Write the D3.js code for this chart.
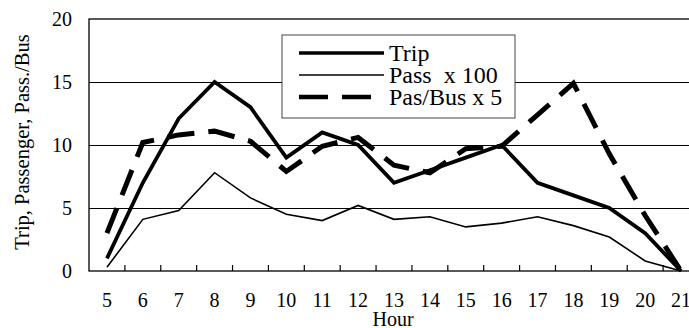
<!DOCTYPE html>
<html><head><meta charset="utf-8">
<script src="https://cdn.jsdelivr.net/npm/d3@7"></script>
<style>
html,body{margin:0;padding:0;background:#fff;}
svg{display:block;}
text{font-family:"Liberation Serif","Times New Roman",serif;fill:#000;}
</style></head>
<body>
<svg id="chart" width="689" height="328"></svg>
<script>
const hours = ["5","6","7","8","9","10","11","12","13","14","15","16","17","18","19","20","21"];
const trip = [1, 7, 12.1, 15, 13, 9, 11, 10, 7, 8, 9, 10, 7, 6, 5, 3, 0];
const passX100 = [0.3, 4.1, 4.8, 7.8, 5.8, 4.5, 4.0, 5.2, 4.1, 4.3, 3.5, 3.8, 4.3, 3.6, 2.7, 0.8, 0];
const pasBusX5 = [3.0, 10.2, 10.8, 11.1, 10.3, 7.9, 9.9, 10.6, 8.4, 7.8, 9.7, 9.9, 12.4, 14.9, 9.3, 4.4, 0];
const yTicks = [0, 5, 10, 15, 20];
const seriesNames = ["Trip", "Pass  x 100", "Pas/Bus x 5"];

const svg = d3.select("#chart");
const L = 89, R = 699, T = 19, B = 271;

const x = d3.scaleBand().domain(hours).range([L, R]).padding(0);
const xc = h => x(h) + x.bandwidth() / 2;
const y = d3.scaleLinear().domain([0, 20]).range([B, T]);

// grid lines
svg.append("g").selectAll("line").data(yTicks.filter(v => v > 0 && v < 20)).join("line")
  .attr("x1", L).attr("x2", R).attr("y1", d => y(d)).attr("y2", d => y(d))
  .attr("stroke", "#000").attr("stroke-width", 1).attr("shape-rendering", "crispEdges");

// plot frame
svg.append("rect").attr("x", L).attr("y", y(20)).attr("width", R - L).attr("height", y(0) - y(20))
  .attr("fill", "none").attr("stroke", "#000").attr("stroke-width", 1.3);

// y tick labels
const yAxis = d3.axisLeft(y).tickValues(yTicks).tickSize(0).tickPadding(17);
const gy = svg.append("g").attr("transform", `translate(${L},0)`).call(yAxis);
gy.select(".domain").remove();
gy.selectAll("text").style("font-size", "20px").style("font-family", '"Liberation Serif", serif');

// x ticks at band boundaries (inside, upward)
svg.append("g").selectAll("line").data(hours.slice(1)).join("line")
  .attr("x1", d => x(d)).attr("x2", d => x(d)).attr("y1", B).attr("y2", B - 6)
  .attr("stroke", "#000").attr("stroke-width", 1.2);

// x tick labels
const xAxis = d3.axisBottom(x).tickSize(0).tickPadding(22);
const gx = svg.append("g").attr("transform", `translate(0,${B})`).call(xAxis);
gx.select(".domain").remove();
gx.selectAll("text").style("font-size", "20px").style("font-family", '"Liberation Serif", serif');

// axis titles
svg.append("text").attr("x", (L + R) / 2 - 1).attr("y", 326).attr("text-anchor", "middle")
  .style("font-size", "20px").text("Hour");
svg.append("text").attr("transform", "translate(29,142) rotate(-90)").attr("text-anchor", "middle")
  .style("font-size", "20.5px").text("Trip, Passenger, Pass./Bus");

const line = d3.line().x((d, i) => xc(hours[i])).y(d => y(d));

const styles = [
  {w: 3.8, dash: null},
  {w: 1.6, dash: null},
  {w: 5, dash: "27,14"}
];
const data = [trip, passX100, pasBusX5];

const clip = svg.append("clipPath").attr("id", "clipPlot").append("rect")
  .attr("x", L).attr("y", 0).attr("width", 700).attr("height", B + 3);

data.forEach((s, k) => {
  svg.append("path").datum(s).attr("d", line)
    .attr("fill", "none").attr("stroke", "#000")
    .attr("stroke-width", styles[k].w)
    .attr("stroke-dasharray", styles[k].dash)
    .attr("stroke-linejoin", "miter").attr("stroke-miterlimit", 2);
});

// legend
const lg = svg.append("g");
lg.append("rect").attr("x", 282).attr("y", 35).attr("width", 233).attr("height", 83)
  .attr("fill", "#fff").attr("stroke", "#444").attr("stroke-width", 1);
const ly = [53, 75, 97];
seriesNames.forEach((n, k) => {
  lg.append("line").attr("x1", 299).attr("x2", 384).attr("y1", ly[k]).attr("y2", ly[k])
    .attr("stroke", "#000").attr("stroke-width", k === 2 ? 4.5 : (k === 0 ? 3.5 : 1.5))
    .attr("stroke-dasharray", k === 2 ? "29,14" : null);
  lg.append("text").attr("x", 389).attr("y", ly[k]).attr("dy", "0.33em")
    .style("font-size", "24px").style("white-space", "pre").attr("xml:space", "preserve").text(n);
});
</script>
</body></html>
